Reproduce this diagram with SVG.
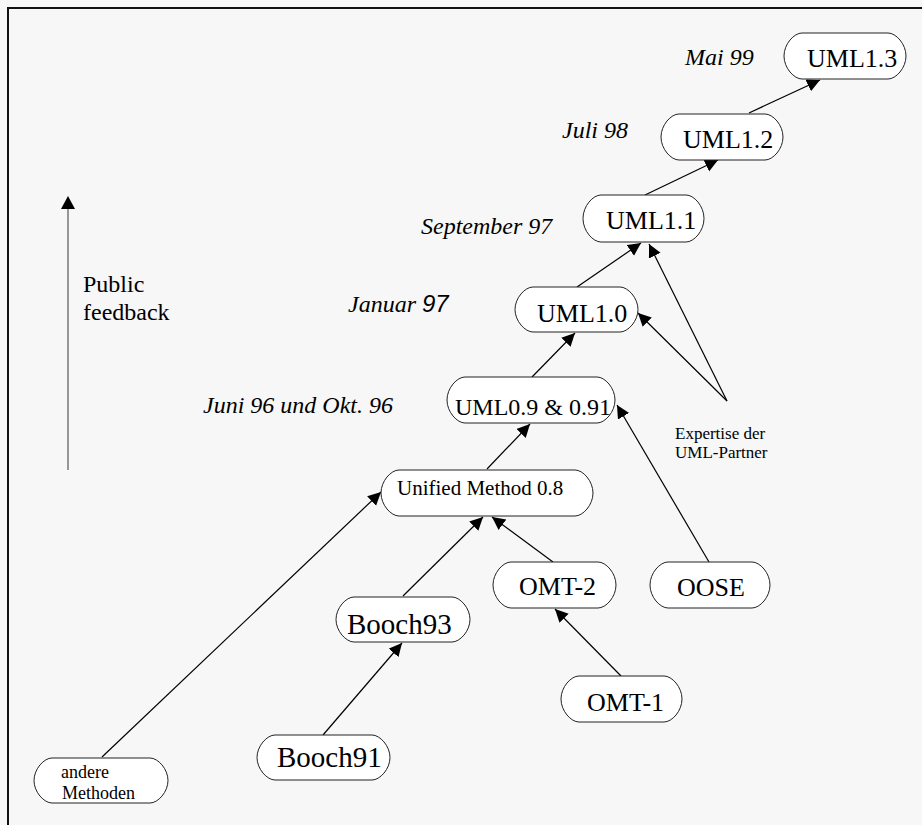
<svg xmlns="http://www.w3.org/2000/svg" width="922" height="825" viewBox="0 0 922 825">
<defs>
<marker id="ah" markerUnits="userSpaceOnUse" markerWidth="14" markerHeight="14" refX="13" refY="6.5" orient="auto">
<path d="M0,0 L13,6.5 L0,13 z" fill="#000"/>
</marker>
<style>
.bg{fill:#f7f7f7}
.node{fill:#fff;stroke:#222;stroke-width:1}
.t{font-family:"Liberation Serif","Times New Roman",serif;fill:#000}
.big{font-size:26px}
.lab{font-family:"Liberation Serif","Times New Roman",serif;font-style:italic;font-size:24px;fill:#000}
.edge{stroke:#000;stroke-width:1.2;fill:none;marker-end:url(#ah)}
</style>
</defs>
<rect class="bg" x="0" y="0" width="922" height="825"/>
<line x1="7" y1="8" x2="922" y2="8" stroke="#111" stroke-width="2"/>
<line x1="8" y1="7" x2="8" y2="825" stroke="#111" stroke-width="2"/>

<g id="public-feedback">
<line x1="68" y1="470" x2="68" y2="207" stroke="#777" stroke-width="1.5"/>
<polygon points="61,209 75,209 68,196" fill="#000"/>
<text class="t" font-size="24" x="83" y="292">Public</text>
<text class="t" font-size="24" x="83" y="320">feedback</text>
</g>

<g id="labels">
<text class="lab" x="685" y="65">Mai 99</text>
<text class="lab" x="562" y="138">Juli 98</text>
<text class="lab" x="421" y="234">September 97</text>
<text class="lab" x="348" y="312">Januar <tspan font-family="'Liberation Sans',Arial,sans-serif">97</tspan></text>
<text class="lab" x="203" y="413">Juni 96 und Okt. 96</text>
</g>

<g id="expertise">
<text class="t" font-size="17" x="675" y="439">Expertise der</text>
<text class="t" font-size="17" x="675" y="458">UML-Partner</text>
</g>

<g id="connectors">
<line class="edge" x1="102" y1="757" x2="381" y2="492"/>
<line class="edge" x1="323" y1="735" x2="402" y2="643"/>
<line class="edge" x1="403" y1="596" x2="483" y2="517"/>
<line class="edge" x1="553" y1="562" x2="492" y2="517"/>
<line class="edge" x1="621" y1="676" x2="555" y2="609"/>
<line class="edge" x1="487" y1="469" x2="530" y2="424"/>
<line class="edge" x1="709" y1="562" x2="617" y2="405"/>
<line class="edge" x1="532" y1="377" x2="575" y2="333"/>
<line class="edge" x1="727" y1="401" x2="638" y2="313"/>
<line class="edge" x1="727" y1="401" x2="649" y2="244"/>
<line class="edge" x1="577" y1="287" x2="641" y2="243"/>
<line class="edge" x1="645" y1="195" x2="718" y2="160"/>
<line class="edge" x1="749" y1="113" x2="820" y2="80"/>
</g>

<g id="uml13">
<path class="node" d="M802,33 H888 C896,33 906,44 906,56 C906,68 896,79 888,79 H802 C794,79 784,68 784,56 C784,44 794,33 802,33 Z"/>
<text class="t big" x="807" y="67">UML1.3</text>
</g>
<g id="uml12">
<path class="node" d="M679,114 H765 C773,114 783,125 783,137 C783,149 773,160 765,160 H679 C671,160 661,149 661,137 C661,125 671,114 679,114 Z"/>
<text class="t big" x="683" y="148">UML1.2</text>
</g>
<g id="uml11">
<path class="node" d="M601,195 H686 C694,195 704,206 704,218.5 C704,231 694,242 686,242 H601 C593,242 583,231 583,218.5 C583,206 593,195 601,195 Z"/>
<text class="t big" x="606" y="229">UML1.1</text>
</g>
<g id="uml10">
<path class="node" d="M533,287 H620 C628,287 638,298 638,309.5 C638,321 628,332 620,332 H533 C525,332 515,321 515,309.5 C515,298 525,287 533,287 Z"/>
<text class="t big" x="537" y="322">UML1.0</text>
</g>
<g id="uml09">
<path class="node" d="M465,377 H597 C605,377 615,388 615,400 C615,412 605,423 597,423 H465 C457,423 447,412 447,400 C447,388 457,377 465,377 Z"/>
<text class="t" font-size="24" x="455" y="415">UML0.9 &amp; 0.91</text>
</g>
<g id="unified">
<path class="node" d="M399,470 H575 C583,470 593,481 593,493 C593,505 583,516 575,516 H399 C391,516 381,505 381,493 C381,481 391,470 399,470 Z"/>
<text class="t" font-size="21" x="397" y="495">Unified Method 0.8</text>
</g>
<g id="omt2">
<path class="node" d="M511,562 H598 C606,562 616,573 616,585 C616,597 606,608 598,608 H511 C503,608 493,597 493,585 C493,573 503,562 511,562 Z"/>
<text class="t big" x="519" y="595">OMT-2</text>
</g>
<g id="oose">
<path class="node" d="M668,562 H752 C760,562 770,573 770,585 C770,597 760,608 752,608 H668 C660,608 650,597 650,585 C650,573 660,562 668,562 Z"/>
<text class="t big" x="677" y="596">OOSE</text>
</g>
<g id="booch93">
<path class="node" d="M354,597 H452 C460,597 470,608 470,619.5 C470,631 460,642 452,642 H354 C346,642 336,631 336,619.5 C336,608 346,597 354,597 Z"/>
<text class="t" font-size="29" x="347" y="634">Booch93</text>
</g>
<g id="omt1">
<path class="node" d="M579,676 H664 C672,676 682,687 682,699 C682,711 672,722 664,722 H579 C571,722 561,711 561,699 C561,687 571,676 579,676 Z"/>
<text class="t big" x="587" y="711">OMT-1</text>
</g>
<g id="booch91">
<path class="node" d="M275,735 H372 C380,735 390,746 390,757.5 C390,769 380,780 372,780 H275 C267,780 257,769 257,757.5 C257,746 267,735 275,735 Z"/>
<text class="t" font-size="29" x="277" y="767">Booch91</text>
</g>
<g id="andere">
<path class="node" d="M52,758 H150 C158,758 168,769 168,780.5 C168,792 158,803 150,803 H52 C44,803 34,792 34,780.5 C34,769 44,758 52,758 Z"/>
<text class="t" font-size="18" x="61" y="778">andere</text>
<text class="t" font-size="18" x="62" y="799">Methoden</text>
</g>
</svg>
